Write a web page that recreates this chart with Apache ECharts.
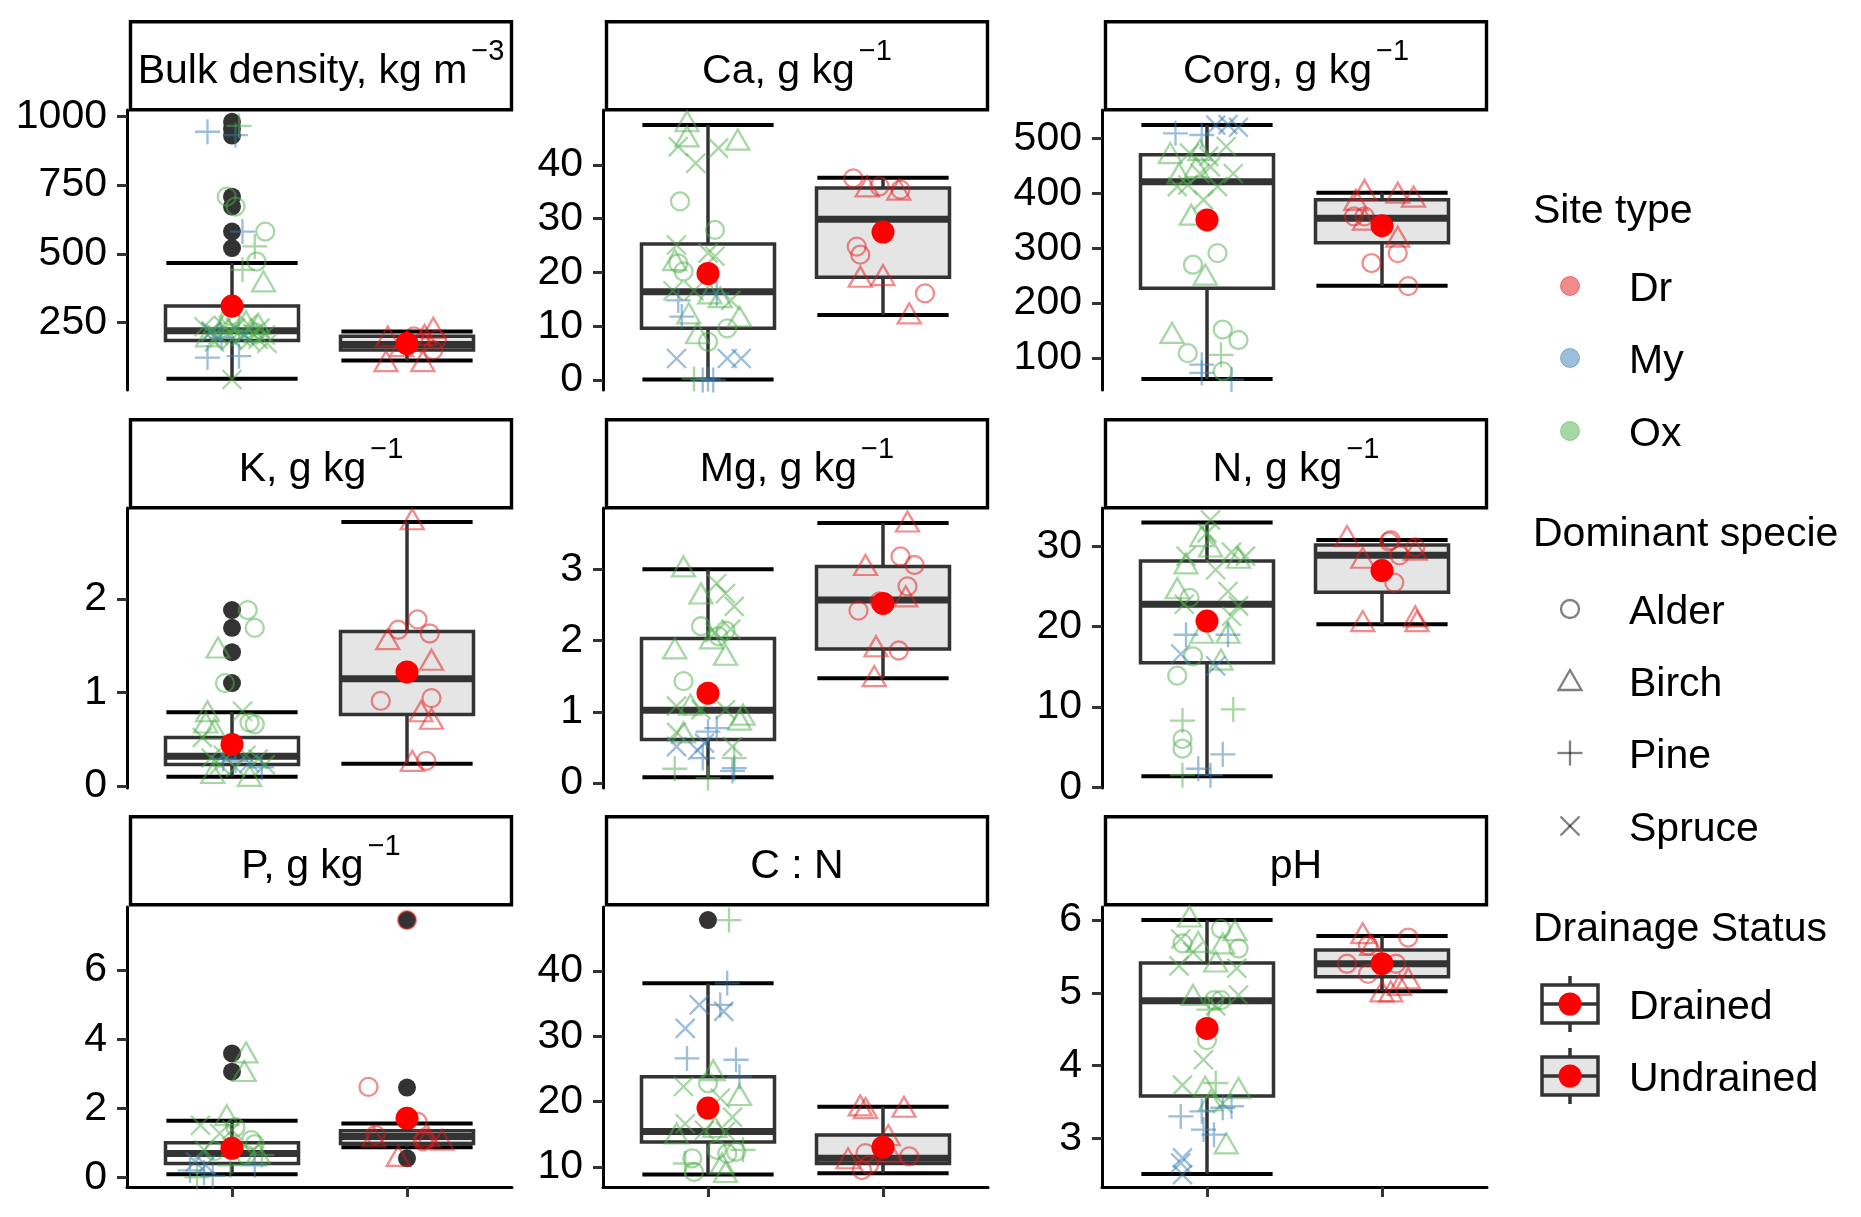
<!DOCTYPE html>
<html lang="en">
<head>
<meta charset="UTF-8">
<title>Soil properties by drainage status</title>
<script src="https://cdn.jsdelivr.net/npm/echarts@6/dist/echarts.min.js"></script>
<style>
  html, body { margin: 0; padding: 0; background: #fff; }
  #main { width: 1861px; height: 1217px; }
</style>
</head>
<body>
<div id="main"></div>
<script>
// ---- data ----
const titles = ['Bulk density, kg m', 'Ca, g kg', 'Corg, g kg', 'K, g kg', 'Mg, g kg', 'N, g kg', 'P, g kg', 'C : N', 'pH'];
const titleSup = ['\u22123', '\u22121', '\u22121', '\u22121', '\u22121', '\u22121', '\u22121', '', ''];

// free y scales and their tick values
const yMin = [5, -1.86, 42, -0.02, -0.07, -0.1, -0.28, 6.9, 2.33];
const yMax = [1023, 50.2, 551.5, 2.97, 3.86, 34.8, 7.83, 49.8, 6.18];
const yTicks = [[250, 500, 750, 1000], [0, 10, 20, 30, 40], [100, 200, 300, 400, 500], [0, 1, 2], [0, 1, 2, 3],
                [0, 10, 20, 30], [0, 2, 4, 6], [10, 20, 30, 40], [3, 4, 5, 6]];

// lower whisker, Q1, median, Q3, upper whisker
const drainedBox = [[46, 185, 220, 310, 467], [0.1, 9.6, 16.4, 25.3, 47.4], [62, 227, 421, 470, 524],
                    [0.10, 0.23, 0.32, 0.52, 0.79], [0.08, 0.61, 1.02, 2.03, 3.0], [1.37, 15.5, 22.8, 28.2, 33.0],
                    [0.09, 0.40, 0.69, 1.0, 1.64], [8.8, 13.8, 15.4, 23.8, 38.1], [2.51, 3.58, 4.89, 5.41, 6.0]];
const undrainedBox = [[112, 150, 170, 200, 218], [12.1, 19.1, 29.9, 35.7, 37.6], [231.5, 310, 354.5, 388, 401],
                      [0.24, 0.765, 1.146, 1.65, 2.82], [1.47, 1.88, 2.57, 3.04, 3.65], [20.3, 24.3, 28.9, 30.2, 30.8],
                      [0.87, 0.98, 1.18, 1.35, 1.56], [9.0, 10.5, 11.3, 14.85, 19.2], [5.02, 5.22, 5.40, 5.59, 5.78]];
const drainedMean = [310, 19.8, 351.5, 0.445, 1.26, 20.7, 0.84, 19.0, 4.51];
const undrainedMean = [174, 27.5, 341, 1.22, 2.52, 27.0, 1.71, 13.0, 5.40];
const drainedOutliers = [[980, 955, 930, 708, 672, 581, 521], [], [], [1.88, 1.69, 1.43, 1.10], [], [], [3.59, 3.06], [47.8], []];
const undrainedOutliers = [[], [], [], [], [], [], [7.45, 2.6, 0.55], [], []];

// jittered samples: [x position, value, site type, species]
// species: A = Alder, B = Birch, P = Pine, S = Spruce
const bulkPts = [
  [0.86, 944, 'My', 'P'], [1.02, 932, 'My', 'P'], [1.04, 965, 'Ox', 'P'], [0.97, 708, 'Ox', 'A'], [1.02, 672, 'Ox', 'A'],
  [1.06, 581, 'My', 'P'], [1.19, 581, 'Ox', 'A'], [1.13, 527, 'Ox', 'P'], [1.14, 472, 'Ox', 'A'], [1.06, 442, 'Ox', 'P'],
  [1.18, 400, 'Ox', 'B'], [0.84, 235, 'Ox', 'S'], [0.88, 220, 'Ox', 'S'], [0.92, 205, 'Ox', 'S'], [0.95, 240, 'Ox', 'S'],
  [0.98, 215, 'Ox', 'S'], [1.02, 230, 'Ox', 'S'], [1.05, 200, 'Ox', 'S'], [1.09, 245, 'Ox', 'S'], [1.12, 210, 'Ox', 'S'],
  [1.16, 230, 'Ox', 'S'], [1.19, 205, 'Ox', 'S'], [1.20, 175, 'Ox', 'S'], [0.90, 180, 'Ox', 'S'], [1.00, 190, 'Ox', 'S'],
  [1.10, 185, 'Ox', 'S'], [0.86, 200, 'Ox', 'B'], [0.96, 250, 'Ox', 'B'], [1.08, 255, 'Ox', 'B'], [1.15, 245, 'Ox', 'B'],
  [0.93, 230, 'Ox', 'P'], [1.04, 220, 'Ox', 'P'], [1.13, 215, 'Ox', 'A'], [0.99, 275, 'Ox', 'A'], [0.88, 215, 'My', 'S'],
  [0.94, 195, 'My', 'P'], [1.07, 205, 'My', 'S'], [1.15, 190, 'Ox', 'S'], [0.86, 123, 'My', 'P'], [1.04, 128, 'My', 'P'],
  [1.00, 43, 'Ox', 'S'],
  [1.89, 200, 'Dr', 'B'], [1.88, 110, 'Dr', 'B'], [2.09, 110, 'Dr', 'B'], [2.15, 231, 'Dr', 'B'], [2.17, 188, 'Dr', 'A'],
  [2.15, 150, 'Dr', 'A'], [2.08, 177, 'Dr', 'A'], [2.04, 200, 'Dr', 'A'], [1.97, 165, 'Dr', 'B'], [2.10, 205, 'Dr', 'B']
];
const caPts = [
  [0.88, 48.1, 'Ox', 'B'], [0.88, 45.3, 'Ox', 'B'], [1.17, 44.7, 'Ox', 'B'], [0.81, 22.3, 'Ox', 'B'], [1.01, 16.1, 'Ox', 'B'],
  [0.89, 12.4, 'Ox', 'B'], [1.18, 11.8, 'Ox', 'B'], [0.94, 8.7, 'Ox', 'B'], [1.07, 15.4, 'Ox', 'B'],
  [0.83, 43.4, 'Ox', 'S'], [0.93, 40.3, 'Ox', 'S'], [1.06, 43.1, 'Ox', 'S'], [0.82, 25.1, 'Ox', 'S'], [1.00, 23.6, 'Ox', 'S'],
  [1.04, 23.0, 'Ox', 'S'], [0.80, 16.6, 'Ox', 'S'], [1.13, 14.8, 'Ox', 'S'], [0.92, 16.6, 'Ox', 'S'],
  [0.84, 33.2, 'Ox', 'A'], [1.04, 27.9, 'Ox', 'A'], [0.86, 20.2, 'Ox', 'A'], [0.83, 21.7, 'Ox', 'A'], [1.11, 9.6, 'Ox', 'A'],
  [1.00, 7.1, 'Ox', 'A'], [0.83, 14.8, 'My', 'P'], [0.85, 11.8, 'My', 'P'], [1.05, 16.1, 'My', 'P'], [1.00, 0.2, 'My', 'P'],
  [1.03, 0.0, 'My', 'P'], [0.97, 0.0, 'My', 'P'], [0.82, 4.0, 'My', 'S'], [1.11, 4.0, 'My', 'S'], [1.19, 4.0, 'My', 'S'],
  [0.92, 0.2, 'Ox', 'P'],
  [1.83, 37.5, 'Dr', 'A'], [1.98, 36.0, 'Dr', 'A'], [2.10, 35.4, 'Dr', 'A'], [1.85, 24.8, 'Dr', 'A'], [1.87, 23.3, 'Dr', 'A'],
  [2.24, 16.1, 'Dr', 'A'], [1.91, 36.0, 'Dr', 'B'], [2.09, 35.4, 'Dr', 'B'], [1.87, 19.2, 'Dr', 'B'], [2.00, 19.5, 'Dr', 'B'],
  [2.15, 12.4, 'Dr', 'B']
];
const corgPts = [
  [1.05, 524, 'My', 'S'], [1.12, 525, 'My', 'S'], [1.18, 520, 'My', 'S'], [0.82, 509, 'My', 'P'], [0.97, 506, 'My', 'P'],
  [0.97, 88, 'My', 'P'], [0.97, 73, 'My', 'P'], [1.14, 61, 'My', 'P'],
  [0.79, 473, 'Ox', 'B'], [0.96, 479, 'Ox', 'B'], [0.84, 436, 'Ox', 'B'], [0.94, 448, 'Ox', 'B'], [0.91, 361, 'Ox', 'B'],
  [0.99, 252, 'Ox', 'B'], [0.80, 146, 'Ox', 'B'],
  [0.90, 473, 'Ox', 'S'], [1.01, 467, 'Ox', 'S'], [1.11, 485, 'Ox', 'S'], [1.15, 436, 'Ox', 'S'], [1.06, 412, 'Ox', 'S'],
  [0.89, 415, 'Ox', 'S'], [0.98, 388, 'Ox', 'S'], [0.83, 412, 'Ox', 'S'], [0.96, 436, 'Ox', 'S'], [1.02, 448, 'Ox', 'S'],
  [0.92, 270, 'Ox', 'A'], [1.06, 291, 'Ox', 'A'], [1.09, 152, 'Ox', 'A'], [1.18, 133, 'Ox', 'A'], [0.89, 109, 'Ox', 'A'],
  [1.09, 76, 'Ox', 'A'], [1.08, 106, 'Ox', 'P'],
  [1.90, 406, 'Dr', 'B'], [1.85, 388, 'Dr', 'B'], [2.09, 401, 'Dr', 'B'], [2.18, 394, 'Dr', 'B'], [2.09, 321, 'Dr', 'B'],
  [1.90, 352, 'Dr', 'B'], [1.84, 358, 'Dr', 'A'], [1.90, 358, 'Dr', 'A'], [2.09, 291, 'Dr', 'A'], [1.94, 273, 'Dr', 'A'],
  [2.15, 231, 'Dr', 'A']
];
const kPts = [
  [1.09, 1.88, 'Ox', 'A'], [1.13, 1.69, 'Ox', 'A'], [0.96, 1.10, 'Ox', 'A'], [1.13, 0.66, 'Ox', 'A'], [1.10, 0.68, 'Ox', 'A'],
  [0.92, 1.48, 'Ox', 'B'], [0.86, 0.80, 'Ox', 'B'], [0.85, 0.68, 'Ox', 'B'], [0.90, 0.61, 'Ox', 'B'], [0.89, 0.14, 'Ox', 'B'],
  [1.10, 0.11, 'Ox', 'B'], [1.06, 0.80, 'Ox', 'S'], [0.83, 0.52, 'Ox', 'S'], [0.93, 0.23, 'Ox', 'S'], [1.02, 0.20, 'Ox', 'S'],
  [1.15, 0.29, 'Ox', 'S'], [1.19, 0.23, 'Ox', 'S'], [0.95, 0.33, 'Ox', 'S'], [0.88, 0.30, 'Ox', 'S'], [1.08, 0.33, 'Ox', 'S'],
  [0.95, 0.29, 'My', 'P'], [1.02, 0.27, 'My', 'P'], [1.17, 0.20, 'My', 'P'], [1.10, 0.25, 'My', 'S'],
  [2.06, 1.78, 'Dr', 'A'], [1.95, 1.67, 'Dr', 'A'], [2.13, 1.63, 'Dr', 'A'], [1.85, 0.91, 'Dr', 'A'], [2.14, 0.94, 'Dr', 'A'],
  [2.11, 0.27, 'Dr', 'A'], [1.89, 1.57, 'Dr', 'B'], [2.14, 1.35, 'Dr', 'B'], [2.03, 2.85, 'Dr', 'B'], [2.08, 0.80, 'Dr', 'B'],
  [2.14, 0.72, 'Dr', 'B'], [2.03, 0.27, 'Dr', 'B']
];
const mgPts = [
  [0.86, 3.04, 'Ox', 'B'], [0.96, 2.66, 'Ox', 'B'], [0.81, 1.89, 'Ox', 'B'], [1.10, 1.80, 'Ox', 'B'], [1.02, 2.03, 'Ox', 'B'],
  [1.20, 0.96, 'Ox', 'B'], [0.90, 1.10, 'Ox', 'B'], [0.86, 0.71, 'Ox', 'B'], [1.18, 0.89, 'Ox', 'B'],
  [1.05, 2.80, 'Ox', 'S'], [1.10, 2.66, 'Ox', 'S'], [1.15, 2.48, 'Ox', 'S'], [1.13, 2.16, 'Ox', 'S'], [1.04, 2.11, 'Ox', 'S'],
  [0.82, 1.08, 'Ox', 'S'], [0.96, 1.03, 'Ox', 'S'], [1.10, 1.03, 'Ox', 'S'], [0.82, 0.71, 'Ox', 'S'], [1.14, 0.51, 'Ox', 'S'],
  [0.96, 2.20, 'Ox', 'A'], [1.06, 2.06, 'Ox', 'A'], [0.86, 1.43, 'Ox', 'A'], [1.10, 2.14, 'Ox', 'A'],
  [0.82, 0.51, 'My', 'S'], [0.94, 0.46, 'My', 'S'], [0.98, 0.56, 'My', 'S'], [1.00, 0.72, 'My', 'P'], [1.05, 0.77, 'My', 'P'],
  [0.97, 0.35, 'My', 'P'], [1.15, 0.21, 'My', 'P'], [1.14, 0.17, 'My', 'P'], [0.81, 0.20, 'Ox', 'P'], [1.00, 0.07, 'Ox', 'P'],
  [1.15, 0.35, 'Ox', 'P'],
  [2.14, 3.67, 'Dr', 'B'], [1.90, 3.06, 'Dr', 'B'], [2.13, 2.62, 'Dr', 'B'], [1.96, 1.92, 'Dr', 'B'], [1.95, 1.50, 'Dr', 'B'],
  [2.10, 3.18, 'Dr', 'A'], [2.18, 3.06, 'Dr', 'A'], [2.14, 2.76, 'Dr', 'A'], [1.98, 2.55, 'Dr', 'A'], [1.86, 2.42, 'Dr', 'A'],
  [2.09, 1.86, 'Dr', 'A']
];
const nPts = [
  [1.02, 33.3, 'Ox', 'S'], [1.00, 31.7, 'Ox', 'S'], [0.88, 28.8, 'Ox', 'S'], [1.14, 29.3, 'Ox', 'S'], [1.05, 27.1, 'Ox', 'S'],
  [1.12, 24.4, 'Ox', 'S'], [1.18, 22.6, 'Ox', 'S'], [0.87, 22.8, 'Ox', 'S'], [1.14, 21.3, 'Ox', 'S'], [1.22, 28.8, 'Ox', 'S'],
  [0.97, 31.3, 'Ox', 'B'], [1.02, 30.0, 'Ox', 'B'], [0.88, 27.9, 'Ox', 'B'], [1.18, 28.6, 'Ox', 'B'], [0.83, 24.8, 'Ox', 'B'],
  [0.97, 19.25, 'Ox', 'B'], [1.12, 19.25, 'Ox', 'B'], [1.08, 15.9, 'Ox', 'B'],
  [0.90, 23.6, 'Ox', 'A'], [0.92, 16.3, 'Ox', 'A'], [0.83, 13.9, 'Ox', 'A'], [0.86, 6.0, 'Ox', 'A'], [0.86, 4.8, 'Ox', 'A'],
  [0.88, 19.0, 'My', 'P'], [1.12, 19.0, 'My', 'P'], [1.09, 4.1, 'My', 'P'], [0.95, 2.3, 'My', 'P'], [1.02, 1.5, 'My', 'P'],
  [0.85, 16.6, 'My', 'S'], [1.05, 15.1, 'My', 'S'], [1.15, 9.7, 'Ox', 'P'], [0.86, 8.3, 'Ox', 'P'], [0.86, 1.5, 'Ox', 'P'],
  [1.80, 31.3, 'Dr', 'B'], [1.89, 28.6, 'Dr', 'B'], [2.19, 29.6, 'Dr', 'B'], [1.89, 20.7, 'Dr', 'B'], [2.19, 21.3, 'Dr', 'B'],
  [2.20, 20.7, 'Dr', 'B'], [2.05, 30.8, 'Dr', 'A'], [2.10, 28.9, 'Dr', 'A'], [2.19, 29.9, 'Dr', 'A'], [2.07, 25.5, 'Dr', 'A'],
  [2.04, 30.6, 'Dr', 'A']
];
const pPts = [
  [1.08, 3.62, 'Ox', 'B'], [1.07, 3.08, 'Ox', 'B'], [0.97, 1.80, 'Ox', 'B'], [1.15, 0.69, 'Ox', 'B'],
  [0.82, 1.51, 'Ox', 'S'], [0.93, 1.27, 'Ox', 'S'], [1.00, 1.37, 'Ox', 'S'], [0.84, 0.80, 'Ox', 'S'],
  [1.11, 1.08, 'Ox', 'A'], [1.13, 0.96, 'Ox', 'A'], [1.02, 1.45, 'Ox', 'A'], [1.08, 0.65, 'Ox', 'A'], [0.90, 0.76, 'Ox', 'A'],
  [0.79, 0.45, 'My', 'S'], [0.85, 0.35, 'My', 'S'], [0.84, 0.13, 'My', 'P'], [0.89, 0.04, 'My', 'P'], [1.13, 0.35, 'My', 'P'],
  [0.76, 0.20, 'My', 'P'], [1.17, 0.65, 'Ox', 'P'], [0.99, 0.35, 'Ox', 'P'], [0.80, 0.00, 'Ox', 'P'],
  [2.00, 7.45, 'Dr', 'A'], [1.78, 2.62, 'Dr', 'A'], [2.06, 1.61, 'Dr', 'A'], [2.09, 1.04, 'Dr', 'A'], [2.10, 1.09, 'Dr', 'A'],
  [1.82, 1.23, 'Dr', 'A'], [1.81, 1.18, 'Dr', 'B'], [1.95, 0.62, 'Dr', 'B'], [2.20, 1.09, 'Dr', 'B'], [2.12, 1.18, 'Dr', 'B']
];
const cnPts = [
  [1.12, 47.8, 'Ox', 'P'], [0.87, 10.5, 'Ox', 'P'], [1.20, 12.6, 'Ox', 'P'],
  [1.11, 38.1, 'My', 'P'], [1.07, 34.8, 'My', 'P'], [0.88, 26.6, 'My', 'P'], [1.16, 26.4, 'My', 'P'], [1.18, 23.8, 'My', 'P'],
  [0.95, 34.8, 'My', 'S'], [1.09, 33.8, 'My', 'S'], [0.87, 31.2, 'My', 'S'],
  [1.03, 24.8, 'Ox', 'B'], [1.18, 21.0, 'Ox', 'B'], [1.04, 16.1, 'Ox', 'B'], [0.82, 15.1, 'Ox', 'B'], [1.10, 9.2, 'Ox', 'B'],
  [1.08, 10.5, 'Ox', 'B'], [1.00, 22.8, 'Ox', 'A'], [1.16, 12.3, 'Ox', 'A'], [0.91, 11.3, 'Ox', 'A'], [0.92, 9.2, 'Ox', 'A'],
  [1.05, 12.6, 'Ox', 'A'], [1.11, 12.0, 'Ox', 'A'], [0.86, 22.3, 'Ox', 'S'], [0.87, 16.6, 'Ox', 'S'], [1.14, 17.6, 'Ox', 'S'],
  [0.98, 15.6, 'Ox', 'S'], [1.10, 15.4, 'Ox', 'S'], [1.07, 20.5, 'Ox', 'S'],
  [1.87, 19.4, 'Dr', 'B'], [1.90, 19.0, 'Dr', 'B'], [2.12, 19.2, 'Dr', 'B'], [1.80, 11.3, 'Dr', 'B'], [2.04, 12.3, 'Dr', 'B'],
  [2.03, 14.85, 'Dr', 'B'], [1.90, 12.1, 'Dr', 'A'], [2.15, 11.6, 'Dr', 'A'], [1.88, 9.5, 'Dr', 'A'], [1.92, 10.3, 'Dr', 'A']
];
const phPts = [
  [0.90, 6.05, 'Ox', 'B'], [1.16, 5.86, 'Ox', 'B'], [0.95, 5.70, 'Ox', 'B'], [1.05, 5.43, 'Ox', 'B'], [1.09, 5.68, 'Ox', 'B'],
  [0.92, 4.97, 'Ox', 'B'], [0.99, 3.71, 'Ox', 'B'], [1.18, 3.69, 'Ox', 'B'], [1.11, 2.93, 'Ox', 'B'], [1.02, 3.52, 'Ox', 'B'],
  [1.08, 5.88, 'Ox', 'A'], [0.86, 5.68, 'Ox', 'A'], [1.18, 5.61, 'Ox', 'A'], [1.04, 4.90, 'Ox', 'A'], [1.08, 4.90, 'Ox', 'A'],
  [1.00, 4.35, 'Ox', 'A'], [0.85, 5.74, 'Ox', 'S'], [0.92, 5.56, 'Ox', 'S'], [0.84, 5.37, 'Ox', 'S'], [1.17, 5.34, 'Ox', 'S'],
  [1.18, 4.97, 'Ox', 'S'], [1.05, 4.82, 'Ox', 'S'], [0.98, 4.08, 'Ox', 'S'], [0.86, 3.73, 'Ox', 'S'], [1.09, 3.48, 'Ox', 'S'],
  [1.05, 3.76, 'Ox', 'P'], [1.01, 4.77, 'Ox', 'P'], [0.85, 3.30, 'My', 'P'], [0.97, 3.37, 'My', 'P'], [1.14, 3.44, 'My', 'P'],
  [1.09, 3.42, 'My', 'P'], [0.98, 3.12, 'My', 'P'], [1.04, 3.05, 'My', 'P'], [0.86, 2.73, 'My', 'S'], [0.85, 2.66, 'My', 'S'],
  [0.86, 2.50, 'My', 'S'],
  [1.89, 5.82, 'Dr', 'B'], [1.94, 5.66, 'Dr', 'B'], [2.15, 5.20, 'Dr', 'B'], [2.05, 5.02, 'Dr', 'B'], [2.00, 5.02, 'Dr', 'B'],
  [2.10, 5.11, 'Dr', 'B'], [2.15, 5.76, 'Dr', 'A'], [1.92, 5.65, 'Dr', 'A'], [1.80, 5.40, 'Dr', 'A'], [2.08, 5.40, 'Dr', 'A'],
  [1.92, 5.26, 'Dr', 'A']
];
const points = [bulkPts, caPts, corgPts, kPts, mgPts, nPts, pPts, cnPts, phPts];

const siteNames = ['Dr', 'My', 'Ox'];
const speciesNames = ['Alder', 'Birch', 'Pine', 'Spruce'];
const drainageNames = ['Drained', 'Undrained'];

// ---- styling ----
const FONT = '"Liberation Sans", Arial, sans-serif';
const FS = 41;
const siteColor = { Dr: '#E41A1C', My: '#377EB8', Ox: '#4DAF4A' };
const shapeSymbol = { A: 'circle', B: 'triangle', P: 'path://M0,10L20,10M10,0L10,20', S: 'path://M0,0L20,20M20,0L0,20' };
const shapeSize = { A: 18, B: [23, 20], P: 25, S: 19 };
const colLeft = [127, 603, 1102];
const rowTop = [110, 508, 907];
const stripTop = [20, 418, 815];
const panelW = 385, panelH = 280;

const measure = document.createElement('canvas').getContext('2d');
function textWidth(s, size) {
  measure.font = size + 'px "Liberation Sans"';
  return measure.measureText(s).width;
}

function renderBox(params, api) {
  const x = api.value(0);
  const fill = api.value(6) === 1 ? '#e5e5e5' : '#ffffff';
  const px = v => api.coord([x, v]);
  const xl = api.coord([x - 0.38, api.value(3)])[0];
  const xr = api.coord([x + 0.38, api.value(3)])[0];
  const cl = api.coord([x - 0.375, api.value(3)])[0];
  const cr = api.coord([x + 0.375, api.value(3)])[0];
  const cx = px(api.value(3))[0];
  const yLow = px(api.value(1))[1], yQ1 = px(api.value(2))[1], yMed = px(api.value(3))[1];
  const yQ3 = px(api.value(4))[1], yHigh = px(api.value(5))[1];
  const line = (x1, y1, x2, y2, color, w) => ({ type: 'line', shape: { x1, y1, x2, y2 }, style: { stroke: color, lineWidth: w } });
  return {
    type: 'group',
    children: [
      line(cl, yHigh, cr, yHigh, '#000', 4),
      line(cl, yLow, cr, yLow, '#000', 4),
      line(cx, yHigh, cx, yQ3, '#333', 3.5),
      line(cx, yQ1, cx, yLow, '#333', 3.5),
      { type: 'rect', shape: { x: xl, y: yQ3, width: xr - xl, height: yQ1 - yQ3 }, style: { fill, stroke: '#333', lineWidth: 3.5 } },
      line(xl + 1.5, yMed, xr - 1.5, yMed, '#333', 7)
    ]
  };
}

const grids = [], xAxes = [], yAxes = [], series = [], graphics = [];
for (let i = 0; i < 9; i++) {
  const r = Math.floor(i / 3), c = i % 3;
  grids.push({ left: colLeft[c], top: rowTop[r], width: panelW, height: panelH });
  xAxes.push({
    type: 'value', gridIndex: i, min: 0.4, max: 2.6, show: r === 2,
    axisLine: { show: true, onZero: false, lineStyle: { color: '#000', width: 3 } },
    axisTick: { show: true, length: 10, customValues: [1, 2], lineStyle: { color: '#333', width: 3 } },
    axisLabel: { show: false }, splitLine: { show: false }
  });
  yAxes.push({
    type: 'value', gridIndex: i, min: yMin[i], max: yMax[i],
    axisLine: { show: true, onZero: false, lineStyle: { color: '#000', width: 3 } },
    axisTick: { show: true, length: 10, customValues: yTicks[i], lineStyle: { color: '#333', width: 3 } },
    axisLabel: {
      customValues: yTicks[i], fontSize: FS, fontFamily: FONT, color: '#000', margin: 20,
      padding: [5, 0, 0, 0], formatter: v => String(v)
    },
    splitLine: { show: false }
  });

  series.push({
    type: 'custom', xAxisIndex: i, yAxisIndex: i, renderItem: renderBox, silent: true,
    encode: { x: 0, y: [1, 2, 3, 4, 5] },
    data: [[1].concat(drainedBox[i], [0]), [2].concat(undrainedBox[i], [1])]
  });
  series.push({
    type: 'scatter', xAxisIndex: i, yAxisIndex: i, symbol: 'circle', symbolSize: 18, silent: true,
    itemStyle: { color: '#333333', opacity: 1 },
    data: drainedOutliers[i].map(v => [1, v]).concat(undrainedOutliers[i].map(v => [2, v]))
  });
  series.push({
    type: 'scatter', xAxisIndex: i, yAxisIndex: i, silent: true,
    data: points[i].map(p => ({
      value: [p[0], p[1]],
      symbol: shapeSymbol[p[3]],
      symbolSize: shapeSize[p[3]],
      itemStyle: { color: 'rgba(0,0,0,0)', borderColor: siteColor[p[2]], borderWidth: 2.3, opacity: 0.5 }
    }))
  });
  series.push({
    type: 'scatter', xAxisIndex: i, yAxisIndex: i, symbol: 'circle', symbolSize: 23, silent: true,
    itemStyle: { color: '#ff0000', opacity: 1 },
    data: [[1, drainedMean[i]], [2, undrainedMean[i]]]
  });

  // facet strip
  const sx = colLeft[c] + 3.5, sy = stripTop[r] + 1.7;
  graphics.push({ type: 'rect', shape: { x: sx, y: sy, width: 381, height: 88 }, style: { fill: '#fff', stroke: '#000', lineWidth: 3.4 } });
  const wMain = textWidth(titles[i], FS);
  const wSup = titleSup[i] ? textWidth(titleSup[i], 29) + 4 : 0;
  const cxs = colLeft[c] + 194, cys = stripTop[r] + 52;
  const tx = cxs - (wMain + wSup) / 2;
  graphics.push({ type: 'text', style: { text: titles[i], x: tx, y: cys, font: FS + 'px ' + FONT, fill: '#000', textAlign: 'left', align: 'left', textVerticalAlign: 'middle', verticalAlign: 'middle' } });
  if (titleSup[i]) {
    graphics.push({ type: 'text', style: { text: titleSup[i], x: tx + wMain + 4, y: cys - 20, font: '29px ' + FONT, fill: '#000', textAlign: 'left', align: 'left', textVerticalAlign: 'middle', verticalAlign: 'middle' } });
  }
}

// ---- legends ----
const lgTitleX = 1533, lgKeyX = 1570, lgLabelX = 1629;
function lgText(text, x, y) {
  return { type: 'text', style: { text, x, y: y + 4, font: FS + 'px ' + FONT, fill: '#000', textAlign: 'left', align: 'left', textVerticalAlign: 'middle', verticalAlign: 'middle' } };
}
graphics.push(lgText('Site type', lgTitleX, 208));
const siteY = [286, 358, 431];
siteNames.forEach((s, k) => {
  graphics.push({ type: 'circle', shape: { cx: lgKeyX, cy: siteY[k], r: 9.5 }, style: { fill: siteColor[s], stroke: siteColor[s], lineWidth: 1, opacity: 0.5 } });
  graphics.push(lgText(s, lgLabelX, siteY[k]));
});
graphics.push(lgText('Dominant specie', lgTitleX, 531));
const spY = [609, 681, 753, 826];
const grey = 'rgba(0,0,0,0.5)';
graphics.push({ type: 'circle', shape: { cx: lgKeyX, cy: spY[0], r: 9 }, style: { fill: 'none', stroke: grey, lineWidth: 2.3 } });
graphics.push({ type: 'polygon', shape: { points: [[lgKeyX - 11.5, spY[1] + 9], [lgKeyX + 11.5, spY[1] + 9], [lgKeyX, spY[1] - 11]] }, style: { fill: 'none', stroke: grey, lineWidth: 2.3 } });
graphics.push({ type: 'polyline', shape: { points: [[lgKeyX - 12.5, spY[2]], [lgKeyX + 12.5, spY[2]]] }, style: { stroke: grey, lineWidth: 2.3 } });
graphics.push({ type: 'polyline', shape: { points: [[lgKeyX, spY[2] - 12.5], [lgKeyX, spY[2] + 12.5]] }, style: { stroke: grey, lineWidth: 2.3 } });
graphics.push({ type: 'polyline', shape: { points: [[lgKeyX - 9.5, spY[3] - 9.5], [lgKeyX + 9.5, spY[3] + 9.5]] }, style: { stroke: grey, lineWidth: 2.3 } });
graphics.push({ type: 'polyline', shape: { points: [[lgKeyX + 9.5, spY[3] - 9.5], [lgKeyX - 9.5, spY[3] + 9.5]] }, style: { stroke: grey, lineWidth: 2.3 } });
speciesNames.forEach((s, k) => graphics.push(lgText(s, lgLabelX, spY[k])));

graphics.push(lgText('Drainage Status', lgTitleX, 926));
const drY = [1004, 1076];
drainageNames.forEach((s, k) => {
  const y = drY[k];
  graphics.push({ type: 'polyline', shape: { points: [[lgKeyX, y - 28], [lgKeyX, y + 28]] }, style: { stroke: '#333', lineWidth: 3.5 } });
  graphics.push({ type: 'rect', shape: { x: lgKeyX - 28, y: y - 19, width: 56, height: 38 }, style: { fill: k ? '#e5e5e5' : '#fff', stroke: '#333', lineWidth: 3.5 } });
  graphics.push({ type: 'polyline', shape: { points: [[lgKeyX - 27, y], [lgKeyX + 27, y]] }, style: { stroke: '#333', lineWidth: 3.5 } });
  graphics.push({ type: 'circle', shape: { cx: lgKeyX, cy: y, r: 11.5 }, style: { fill: '#ff0000' } });
  graphics.push(lgText(s, lgLabelX, y));
});

const chart = echarts.init(document.getElementById('main'), null, { renderer: 'canvas' });
chart.setOption({
  backgroundColor: '#fff',
  animation: false,
  grid: grids,
  xAxis: xAxes,
  yAxis: yAxes,
  series: series,
  graphic: { elements: graphics }
});
</script>
</body>
</html>
